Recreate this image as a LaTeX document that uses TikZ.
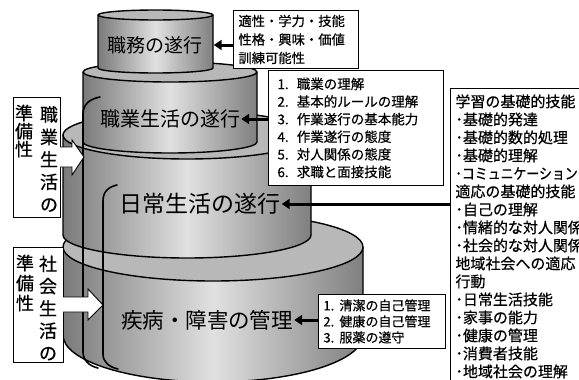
\documentclass[tikz,border=0pt]{standalone}
\usepackage{graphicx}
\usepackage{fontspec}
\setmainfont{Noto Sans CJK JP}
\newfontfamily\boxfont[FakeBold=0.5]{Noto Sans CJK JP}
\usetikzlibrary{arrows.meta,calc}
\definecolor{cylL}{gray}{0.48}
\definecolor{cylM}{gray}{0.88}
\definecolor{cylR}{gray}{0.50}
\definecolor{cyltop}{gray}{0.72}

\newcommand\mycyl[6]{%
  \pgfmathsetmacro\cylrx{(#2-#1)/2}%
  \pgfmathsetmacro\cylcx{(#2+#1)/2}%
  \shade[left color=cylL, right color=cylR, middle color=cylM]
    (#1,#3) -- (#1,#5) arc[start angle=180,end angle=0,x radius=\cylrx,y radius=#6]
    -- (#2,#3) arc[start angle=0,end angle=-180,x radius=\cylrx,y radius=#4] -- cycle;
  \draw[cylline] (#1,#3) -- (#1,#5) arc[start angle=180,end angle=0,x radius=\cylrx,y radius=#6] -- (#2,#3);
  \filldraw[cylline, fill=cyltop] (\cylcx,#3) ellipse[x radius=\cylrx, y radius=#4];
}

\begin{document}
\begin{tikzpicture}[x=1pt,y=-1pt,
  cylline/.style={line width=1.4pt, line join=round},
  lbl/.style={inner sep=1pt, text=black},
  box/.style={draw, line width=0.9pt, fill=white, anchor=north west, align=left, inner xsep=5pt},
  arr/.style={line width=3pt, -{Triangle[length=8pt,width=10pt]}},
  brk/.style={line width=1.6pt, line cap=round},
  hollow/.style={line width=0.9pt, line join=miter},
  vbox/.style={draw, line width=0.9pt, fill=white},
  vcol/.style={align=center, inner sep=0pt}]

\useasboundingbox (0,0) rectangle (579,380);
\fill[white] (0,0) rectangle (579,380);

% stacked cylinders (bottom first)
\mycyl{63}{363}{247}{34}{335}{47}
\mycyl{63}{311}{135}{24}{235}{23}
\mycyl{83}{257}{72}{10}{142}{11}
\mycyl{98}{213}{15}{5}{68}{5}

% brackets
\draw[brk] (100,97) .. controls (90,99) and (83,104) .. (83,114) -- (83,352) .. controls (83,360) and (89,366) .. (98,368);
\draw[brk] (117,185) .. controls (108,187) and (103,192) .. (103,201) -- (103,354) .. controls (103,362) and (109,367) .. (118,369);

% labels in the cylinders
\node[lbl, font=\fontsize{19}{19}\selectfont] (l1) at (155,45) {職務の遂行};
\node[lbl, font=\fontsize{20}{20}\selectfont] (l2) at (170,119) {職業生活の遂行};
\node[lbl, font=\fontsize{23}{23}\selectfont] (l3) at (200,204) {日常生活の遂行};
\node[lbl, font=\fontsize{21.5}{21.5}\selectfont] (l4) at (207,320) {疾病・障害の管理};

% left boxes
\node[vbox, minimum width=47pt, minimum height=120pt] (lb1) at (36.5,157) {};
\node[vcol, font=\boxfont\fontsize{18}{18}\selectfont] (lb1a) at (24,131) {準\\備\\性};
\node[vcol, font=\boxfont\fontsize{18}{22.5}\selectfont] (lb1b) at (49,159) {職\\業\\生\\活\\の};

\node[vbox, minimum width=50pt, minimum height=115pt] (lb2) at (38,304.5) {};
\node[vcol, font=\boxfont\fontsize{18}{20}\selectfont] (lb2a) at (25,283) {準\\備\\性};
\node[vcol, font=\boxfont\fontsize{18}{22.3}\selectfont] (lb2b) at (48,308) {社\\会\\生\\活\\の};

% hollow arrows
\coordinate (t1) at (84,157);
\fill[white] (58,147) -- (72,147) -- (72,140) -- (t1) -- (72,175) -- (72,167) -- (58,167) -- cycle;
\draw[hollow] (60,147) -- (72,147) -- (72,140) -- (t1) -- (72,175) -- (72,167) -- (60,167);
\coordinate (t2) at (103,305);
\fill[white] (61,297) -- (88,297) -- (88,289) -- (t2) -- (88,320) -- (88,312) -- (61,312) -- cycle;
\draw[hollow] (63,297) -- (88,297) -- (88,289) -- (t2) -- (88,320) -- (88,312) -- (63,312);

% right boxes
\node[box, text width=115pt, minimum height=58pt, font=\boxfont\fontsize{13.3}{18.5}\selectfont] (b1) at (233,10)
  {適性・学力・技能\\性格・興味・価値\\訓練可能性};
\node[box, text width=157pt, inner xsep=9pt, minimum height=115pt, font=\boxfont\fontsize{13.5}{17.6}\selectfont] (b2) at (268,70)
  {1.\hspace{0.6em}職業の理解\\2.\hspace{0.6em}基本的ルールの理解\\3.\hspace{0.6em}作業遂行の基本能力\\4.\hspace{0.6em}作業遂行の態度\\5.\hspace{0.6em}対人関係の態度\\6.\hspace{0.6em}求職と面接技能};
\node[box, text width=200pt, inner ysep=6pt, font=\boxfont\fontsize{15}{18}\selectfont] (b3) at (450,88)
  {学習の基礎的技能\\･基礎的発達\\･基礎的数的処理\\･基礎的理解\\\scalebox{0.86}[1]{･コミュニケーション}\\適応の基礎的技能\\･自己の理解\\･情緒的な対人関係\\･社会的な対人関係\\地域社会への適応\\行動\\･日常生活技能\\･家事の能力\\･健康の管理\\･消費者技能\\･地域社会の理解};
\node[box, text width=117pt, inner xsep=5pt, minimum height=54pt, font=\boxfont\fontsize{13}{16}\selectfont] (b4) at (318,294)
  {1.\hspace{0.4em}清潔の自己管理\\2.\hspace{0.4em}健康の自己管理\\3.\hspace{0.4em}服薬の遵守};

% arrows
\draw[arr, shorten >=10pt] (l1.east -| b1.west) -- (l1.east);
\draw[arr] (l2.east -| b2.west) -- (l2.east);
\draw[arr] (l3.east -| b3.west) -- (l3.east);
\draw[arr] (l4.east -| b4.west) -- (l4.east);
\end{tikzpicture}
\end{document}
